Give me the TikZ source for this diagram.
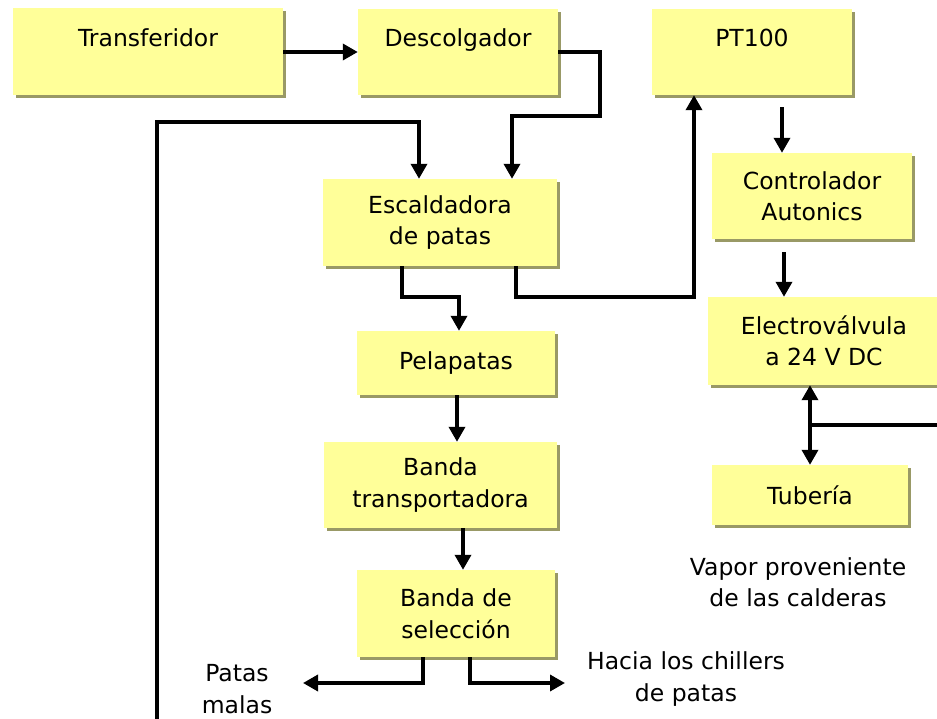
\documentclass[tikz,border=0pt]{standalone}
\usepackage{fontspec}
\setmainfont{DejaVu Sans}
\usepackage{tikz}
\usetikzlibrary{arrows.meta,positioning,calc,shadows}
\definecolor{boxfill}{RGB}{255,255,153}
\definecolor{boxshade}{RGB}{153,153,102}
\tikzset{
  procbox/.style={fill=boxfill, inner sep=0pt, align=center,
    font=\fontsize{23.5}{31.5}\selectfont,
    general shadow={fill=boxshade, shadow xshift=3pt, shadow yshift=-3pt}},
  toptext/.style={text height=17.5pt, text depth=28pt},
  flowline/.style={line width=3.5pt},
  flow/.style={flowline, -{Triangle[length=15pt,width=16pt]}},
  flowboth/.style={flowline, {Triangle[length=15pt,width=16pt]}-{Triangle[length=15pt,width=16pt]}},
  note/.style={align=center, font=\fontsize{23.5}{31.5}\selectfont},
}

\begin{document}
\begin{tikzpicture}[x=1pt, y=-1pt]
\useasboundingbox (0,0) rectangle (937,719);

%% ── Top row ──────────────────────────────────────────────────────────────
\node[procbox, toptext, minimum width=270pt, minimum height=87pt]
  (trans) at (148,52) {Transferidor};
\node[procbox, toptext, minimum width=200pt, minimum height=86pt]
  (desc) at (458,52) {Descolgador};
\node[procbox, toptext, minimum width=200pt, minimum height=86pt]
  (pt100) at (752,52) {PT100};

%% ── Leg line ─────────────────────────────────────────────────────────────
\node[procbox, minimum width=234pt, minimum height=87pt]
  (esc) at (440,222.5) {Escaldadora\\de patas};
\node[procbox, minimum width=198pt, minimum height=64pt]
  (pela) at (456,363) {Pelapatas};
\node[procbox, minimum width=233pt, minimum height=86pt]
  (banda) at (440.5,485) {Banda\\transportadora};
\node[procbox, minimum width=198pt, minimum height=87pt]
  (selec) at (456,613.5) {Banda de\\selección};

%% ── Temperature loop ─────────────────────────────────────────────────────
\node[procbox, minimum width=200pt, minimum height=86pt]
  (ctrl) at (812,196) {Controlador\\Autonics};
\node[procbox, minimum width=232pt, minimum height=88pt]
  (valv) at (824,341) {Electroválvula\\a 24 V DC};
\node[procbox, minimum width=196pt, minimum height=60pt]
  (tub) at (810,495) {Tubería};

%% ── Loose ends and notes ─────────────────────────────────────────────────
\coordinate (retorno) at (157,725);
\coordinate (vapor) at (945,425);
\coordinate (malas) at (303,683);
\coordinate (chillers) at (565,683);

\node[note] (patas) at (237,689) {Patas\\malas};
\node[note] (hacia) at (686,679) {Hacia los chillers\\de patas};
\node[note] (calderas) at (798,582) {Vapor proveniente\\de las calderas};

%% ── Connectors ───────────────────────────────────────────────────────────
\draw[flow] (trans) -- (desc);
\draw[flow] (desc.east) -- ++(42,0) -- ++(0,64) -| ([xshift=72pt]esc.north);
\draw[flow] (retorno) -- ++(0,-603) -| ([xshift=-21pt]esc.north);

\draw[flow] ([xshift=-38pt]esc.south) -- ++(0,31) -| ([xshift=3pt]pela.north);
\draw[flow] ([xshift=76pt]esc.south) -- ++(0,31) -| ([xshift=-58pt]pt100.south);

\draw[flow] ([shift={(30,12)}]pt100.south) -- ([xshift=-30pt]ctrl.north);
\draw[flow] ([shift={(-28,13)}]ctrl.south) -- ([xshift=-40pt]valv.north);
\draw[flowboth] ([xshift=-14pt]valv.south) -- (tub.north);
\draw[flowline] (vapor) -- (tub.north |- vapor);

\draw[flow] ([xshift=1pt]pela.south) -- ([xshift=16.5pt]banda.north);
\draw[flow] ([xshift=22.5pt]banda.south) -- ([xshift=7pt]selec.north);
\draw[flow] ([xshift=-33pt]selec.south) |- (malas);
\draw[flow] ([xshift=14pt]selec.south) |- (chillers);

\end{tikzpicture}
\end{document}
